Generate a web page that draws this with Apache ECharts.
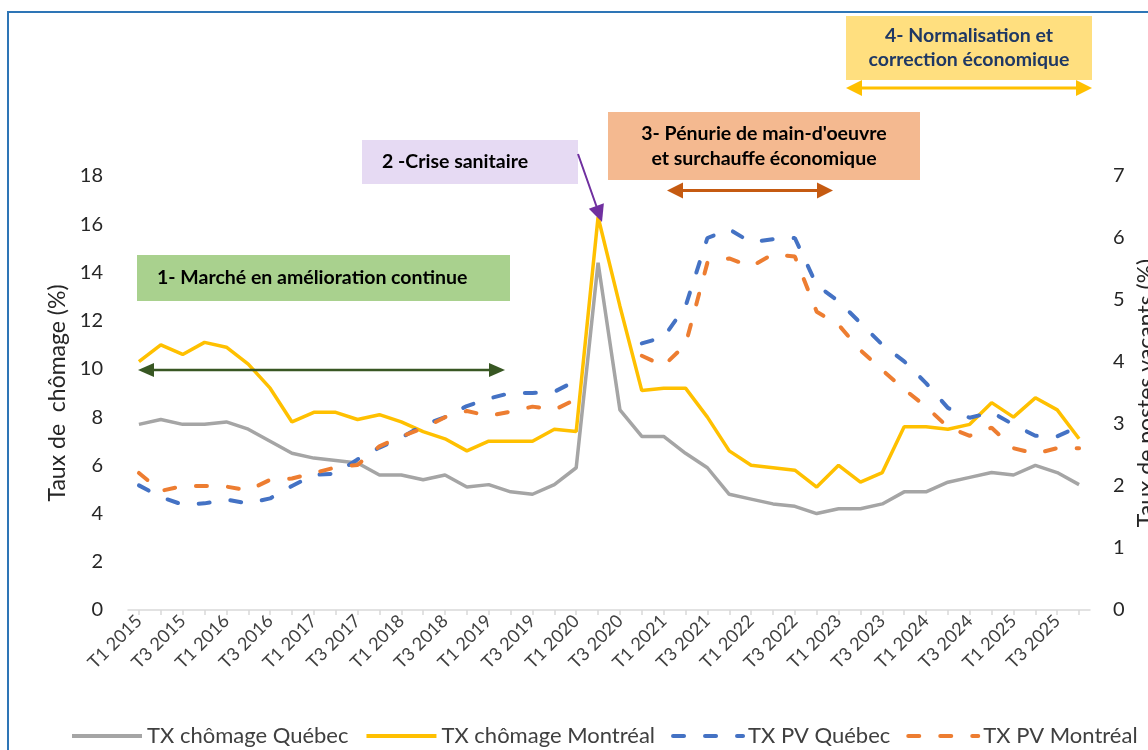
<!DOCTYPE html>
<html><head><meta charset="utf-8">
<script src="https://cdn.jsdelivr.net/npm/echarts@6/dist/echarts.min.js"></script>
<style>html,body{margin:0;padding:0;background:#fff}#c{width:1148px;height:750px}</style>
</head><body><div id="c"></div>
<script>
const categories = ['T1 2015','T2 2015','T3 2015','T4 2015','T1 2016','T2 2016','T3 2016','T4 2016',
'T1 2017','T2 2017','T3 2017','T4 2017','T1 2018','T2 2018','T3 2018','T4 2018',
'T1 2019','T2 2019','T3 2019','T4 2019','T1 2020','T2 2020','T3 2020','T4 2020',
'T1 2021','T2 2021','T3 2021','T4 2021','T1 2022','T2 2022','T3 2022','T4 2022',
'T1 2023','T2 2023','T3 2023','T4 2023','T1 2024','T2 2024','T3 2024','T4 2024',
'T1 2025','T2 2025','T3 2025','T4 2025'];
const chomageQuebec = [7.7,7.9,7.7,7.7,7.8,7.5,7.0,6.5,6.3,6.2,6.1,5.6,5.6,5.4,5.6,5.1,5.2,4.9,4.8,5.2,5.9,14.4,8.3,7.2,7.2,6.5,5.9,4.8,4.6,4.4,4.3,4.0,4.2,4.2,4.4,4.9,4.9,5.3,5.5,5.7,5.6,6.0,5.7,5.2];
const chomageMontreal = [10.3,11.0,10.6,11.1,10.9,10.2,9.2,7.8,8.2,8.2,7.9,8.1,7.8,7.4,7.1,6.6,7.0,7.0,7.0,7.5,7.4,16.3,12.6,9.1,9.2,9.2,8.0,6.6,6.0,5.9,5.8,5.1,6.0,5.3,5.7,7.6,7.6,7.5,7.7,8.6,8.0,8.8,8.3,7.1];
const pvQuebec = [2.01,1.82,1.70,1.72,1.78,1.72,1.80,2.00,2.18,2.20,2.43,2.62,2.78,2.98,3.11,3.29,3.41,3.50,3.50,3.52,3.70,null,null,4.30,4.40,4.90,6.00,6.14,5.93,5.98,6.00,5.24,4.98,4.63,4.28,4.01,3.66,3.26,3.10,3.19,2.99,2.81,2.80,2.96];
const pvMontreal = [2.21,1.92,2.00,2.00,1.99,1.93,2.10,2.12,2.21,2.30,2.34,2.64,2.80,2.93,3.11,3.21,3.13,3.20,3.28,3.23,3.40,null,null,4.10,3.94,4.28,5.60,5.67,5.54,5.74,5.70,4.81,4.60,4.19,3.87,3.56,3.28,2.95,2.81,2.94,2.61,2.52,2.61,2.61];
const seriesNames = ['TX chômage Québec','TX chômage Montréal','TX PV Québec','TX PV Montréal'];
const leftTicks = {min:0, max:18, interval:2};
const rightTicks = {min:0, max:7, interval:1};
const annotations = {
  a1: '1- Marché en amélioration continue',
  a2: '2 -Crise sanitaire',
  a3: "3- Pénurie de main-d'oeuvre\net surchauffe économique",
  a4: '4- Normalisation et\ncorrection économique'
};

const FONT = 'Lato';
function arrowEls(x1,y1,x2,y2,color,w,both,hl,hw){
  const dx=x2-x1, dy=y2-y1, L=Math.hypot(dx,dy), ux=dx/L, uy=dy/L, px=-uy, py=ux;
  const head=(tx,ty,sx,sy)=>({type:'polygon',z:50,shape:{points:[[tx,ty],[tx-sx*hl+px*hw,ty-sy*hl+py*hw],[tx-sx*hl-px*hw,ty-sy*hl-py*hw]]},style:{fill:color}});
  const a = both ? [x1+ux*hl*0.7,y1+uy*hl*0.7] : [x1,y1];
  const b = [x2-ux*hl*0.7,y2-uy*hl*0.7];
  const els=[{type:'line',z:50,shape:{x1:a[0],y1:a[1],x2:b[0],y2:b[1]},style:{stroke:color,lineWidth:w}}, head(x2,y2,ux,uy)];
  if(both) els.push(head(x1,y1,-ux,-uy));
  return els;
}
function box(x,y,w,h,fill,text,color,align,lh){
  const tx = align==='left' ? x+20 : x+w/2;
  return [
    {type:'rect',z:40,shape:{x:x,y:y,width:w,height:h},style:{fill:fill}},
    {type:'text',z:41,style:{text:text,x:tx,y:y+h/2,textAlign:align,textVerticalAlign:'middle',
      font:'bold 19.5px '+FONT,fill:color,lineHeight:lh}}
  ];
}

const graphics = [].concat(
  [{type:'rect',z:60,shape:{x:8,y:12,width:1200,height:800},style:{fill:null,stroke:'#2E75B6',lineWidth:2}}],
  box(137,255,373,46,'#A9D18E',annotations.a1,'#000','left',25),
  box(362,140,216,44,'#E6DAF3',annotations.a2,'#000','left',25),
  box(608,112,312,68,'#F4B990',annotations.a3,'#000','center',25),
  box(846,16,246,64,'#FFDF7F',annotations.a4,'#1F3864','center',24),
  arrowEls(138,370,505,370,'#385723',2.5,true,16,7),
  arrowEls(578,154,602,222,'#7030A0',2,false,17,8),
  arrowEls(667,190.5,833,190.5,'#C55A11',3,true,16,8),
  arrowEls(846,88,1092,88,'#FFC000',3,true,16,8)
);

const chart = echarts.init(document.getElementById('c'));
chart.setOption({
  animation:false,
  textStyle:{fontFamily:FONT},
  grid:{left:128,right:58,top:176,bottom:140,outerBoundsMode:'none',containLabel:false},
  legend:{
    bottom:3,left:70,width:1080,padding:0,itemWidth:70,itemHeight:14,itemGap:16,
    itemStyle:{opacity:0},
    lineStyle:{width:4},
    textStyle:{fontSize:22,color:'#404040',fontFamily:FONT},
    data:seriesNames
  },
  xAxis:{
    type:'category',data:categories,boundaryGap:true,
    axisLine:{lineStyle:{color:'#D9D9D9',width:1.5}},
    axisTick:{show:true,alignWithLabel:true,interval:0,length:5,lineStyle:{color:'#D9D9D9',width:1.5}},
    axisLabel:{rotate:45,interval:1,fontSize:18,color:'#404040',margin:8,fontFamily:FONT},
    splitLine:{show:false}
  },
  yAxis:[
    {type:'value',min:leftTicks.min,max:leftTicks.max,interval:leftTicks.interval,
     name:'Taux de  chômage (%)',nameLocation:'middle',nameRotate:90,nameGap:56,
     nameTextStyle:{fontSize:23,color:'#262626',fontFamily:FONT},
     axisLine:{show:false},axisTick:{show:false},splitLine:{show:false},
     axisLabel:{fontSize:20,color:'#262626',margin:25,fontFamily:FONT}},
    {type:'value',min:rightTicks.min,max:rightTicks.max,interval:rightTicks.interval,position:'right',
     name:'Taux de postes vacants (%)',nameLocation:'middle',nameRotate:90,nameGap:40,
     nameTextStyle:{fontSize:23,color:'#262626',fontFamily:FONT},
     axisLine:{show:false},axisTick:{show:false},splitLine:{show:false},
     axisLabel:{fontSize:20,color:'#262626',margin:23,fontFamily:FONT}}
  ],
  series:[
    {name:seriesNames[0],type:'line',data:chomageQuebec,yAxisIndex:0,symbol:'none',
     lineStyle:{color:'#A5A5A5',width:3.5},itemStyle:{color:'#A5A5A5'}},
    {name:seriesNames[1],type:'line',data:chomageMontreal,yAxisIndex:0,symbol:'none',
     lineStyle:{color:'#FFC000',width:3.5},itemStyle:{color:'#FFC000'}},
    {name:seriesNames[2],type:'line',data:pvQuebec,yAxisIndex:1,symbol:'none',connectNulls:false,
     lineStyle:{color:'#4472C4',width:4,type:[11,21],cap:'round'},itemStyle:{color:'#4472C4'}},
    {name:seriesNames[3],type:'line',data:pvMontreal,yAxisIndex:1,symbol:'none',connectNulls:false,
     lineStyle:{color:'#ED7D31',width:4,type:[11,21],cap:'round'},itemStyle:{color:'#ED7D31'}}
  ],
  graphic:graphics
});
</script></body></html>
